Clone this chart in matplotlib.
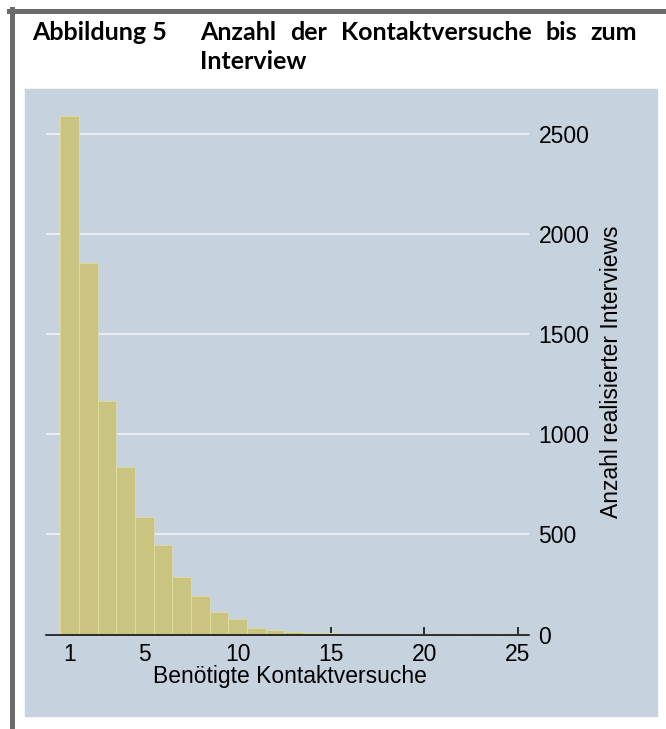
import matplotlib
matplotlib.use("Agg")
import matplotlib.pyplot as plt
from matplotlib.patches import Rectangle
from matplotlib.lines import Line2D

# data
attempts = list(range(1, 26))
interviews = [2588, 1853, 1167, 838, 589, 446, 285, 193, 110, 76, 31, 22,
              10, 7, 5, 4, 3, 2, 0, 0, 1, 0, 1, 0, 2]
x_ticks = [1, 5, 10, 15, 20, 25]
y_ticks = [0, 500, 1000, 1500, 2000, 2500]

title_left = "Abbildung 5"
title_words = ["Anzahl", "der", "Kontaktversuche", "bis", "zum"]
title_line2 = "Interview"
x_label = "Benötigte Kontaktversuche"
y_label = "Anzahl realisierter Interviews"

W, H = 666, 729
fig = plt.figure(figsize=(W / 100, H / 100), dpi=100)
fig.set_facecolor("white")


def fx(px):
    return px / W


def fy(py):
    return 1 - py / H


# dark frame on top and left
fig.add_artist(Line2D([fx(9), fx(666)], [fy(10.5), fy(10.5)], color="#6b6b6b", lw=3.6))
fig.add_artist(Line2D([fx(11.5), fx(11.5)], [fy(8.5), fy(729)], color="#6b6b6b", lw=3.6))

# graph background panel
panel_col = "#c6d3df"
fig.add_artist(Rectangle((fx(25), fy(716)), fx(657) - fx(25), fy(89) - fy(716),
                         transform=fig.transFigure, color=panel_col, zorder=0))

# title
tfont = dict(family="Lato", weight="bold", fontsize=18, color="black")
fig.text(fx(32), fy(40), title_left, ha="left", va="baseline", **tfont)
fig.text(fx(200), fy(69), title_line2, ha="left", va="baseline", **tfont)

renderer = fig.canvas.get_renderer()
word_objs = [fig.text(0, fy(40), w, ha="left", va="baseline", **tfont) for w in title_words]
widths = [t.get_window_extent(renderer).width for t in word_objs]
x0, x1 = 200, 637
gap = (x1 - x0 - sum(widths)) / (len(title_words) - 1)
pos = x0
for t, w in zip(word_objs, widths):
    t.set_x(fx(pos))
    pos += w + gap

# plot axes
ax = fig.add_axes([fx(46.2), fy(634.5), fx(528.8) - fx(46.2), fy(113.7) - fy(634.5)])
ax.set_facecolor("none")
ax.bar(attempts, interviews, width=1.0, color="#cbc380", edgecolor="#ddd89b",
       linewidth=0.8, zorder=2)

ax.set_xlim(-0.25, 25.6)
ax.set_ylim(0, 2600)
ax.set_xticks(x_ticks)
ax.set_yticks(y_ticks)

for s in ["top", "left", "right"]:
    ax.spines[s].set_visible(False)
ax.spines["bottom"].set_linewidth(1.1)
ax.spines["bottom"].set_zorder(3)

ax.yaxis.tick_right()
ax.grid(axis="y", color="#eef2f5", linewidth=1.3, zorder=1)
ax.set_axisbelow(True)

tick_font = "Liberation Sans"
ax.tick_params(axis="x", direction="in", length=6, width=1.1, pad=6,
               labelsize=16.5, colors="black")
ax.tick_params(axis="y", length=0, pad=7, labelsize=16.5)
for lab in ax.get_xticklabels() + ax.get_yticklabels():
    lab.set_family(tick_font)

fig.text(fx(289.5), fy(683), x_label, ha="center", va="baseline",
         family=tick_font, fontsize=16.5)
fig.text(fx(612), fy(372), y_label, ha="center", va="center", rotation=90,
         family=tick_font, fontsize=16.5)

fig.savefig("out.png", dpi=100, facecolor="white")
